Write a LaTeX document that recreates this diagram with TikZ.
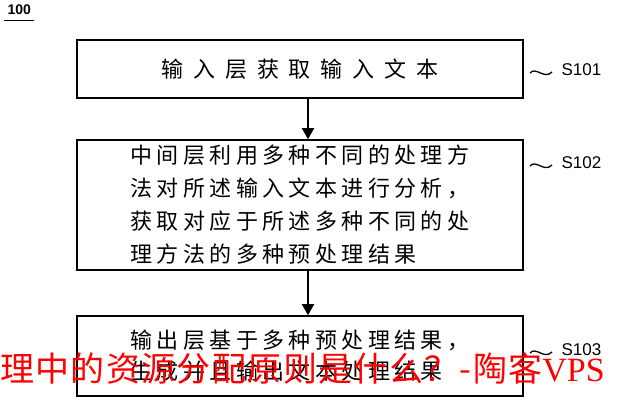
\documentclass[tikz,border=0pt]{standalone}
\usepackage{fontspec}
\newfontfamily\cjkA[LetterSpace=45]{Noto Sans CJK SC}
\newfontfamily\cjkB[LetterSpace=20]{Noto Sans CJK SC}
\newfontfamily\wm[LetterSpace=4]{Noto Sans CJK SC}
\newfontfamily\wmlat{Liberation Serif}
\setmainfont{Liberation Sans}
\usetikzlibrary{arrows.meta}
\begin{document}
\begin{tikzpicture}[x=1pt,y=-1pt,
 box/.style={draw,line width=1.6pt,inner sep=0pt},
 arr/.style={line width=1.6pt,-{Triangle[length=11pt,width=12pt]}},
 lab/.style={font=\fontsize{17}{17}\selectfont,anchor=west},
 squig/.style={line width=1.3pt}]
\useasboundingbox (0,0) rectangle (620,400);
\fill[white] (0,0) rectangle (620,400);
\node[anchor=west,font=\fontsize{14}{14}\selectfont\bfseries] (t) at (4,10) {100};
\draw[line width=1pt] (4,20) -- (34,20);
\node[box,minimum width=446pt,minimum height=58pt] (b1) at (300,69) {};
\node[font=\fontsize{22}{22}\selectfont\cjkA] at (b1) {输入层获取输入文本};
\node[box,minimum width=446pt,minimum height=130pt] (b2) at (300,205) {};
\node[font=\fontsize{22}{33}\selectfont\cjkB,align=left] at (b2) {中间层利用多种不同的处理方\\法对所述输入文本进行分析，\\获取对应于所述多种不同的处\\理方法的多种预处理结果};
\node[box,minimum width=446pt,minimum height=80pt] (b3) at (300,356) {};
\node[font=\fontsize{22}{31}\selectfont\cjkB,align=left] at (b3) {输出层基于多种预处理结果，\\生成并且输出文本处理结果};
\draw[arr] (b1.south -| 308,0) -- (b2.north -| 308,0);
\draw[arr] (b2.south -| 308,0) -- (b3.north -| 308,0);
\coordinate (c1) at (530,73);
\draw[squig] (c1) .. controls (536,66) and (544,80) .. (552,72);
\node[lab] (s1) at (558,70) {S101};
\coordinate (c2) at (530,166);
\draw[squig] (c2) .. controls (536,159) and (544,173) .. (552,165);
\node[lab] (s2) at (558,163) {S102};
\coordinate (c3) at (530,353);
\draw[squig] (c3) .. controls (536,346) and (544,360) .. (552,352);
\node[lab] (s3) at (558,350) {S103};
\node[anchor=west,text=red,font=\fontsize{34}{34}\selectfont\wm,inner sep=0pt] (w) at (0,368) {理中的资源分配原则是什么？-陶客{\wmlat VPS}};
\end{tikzpicture}
\end{document}
